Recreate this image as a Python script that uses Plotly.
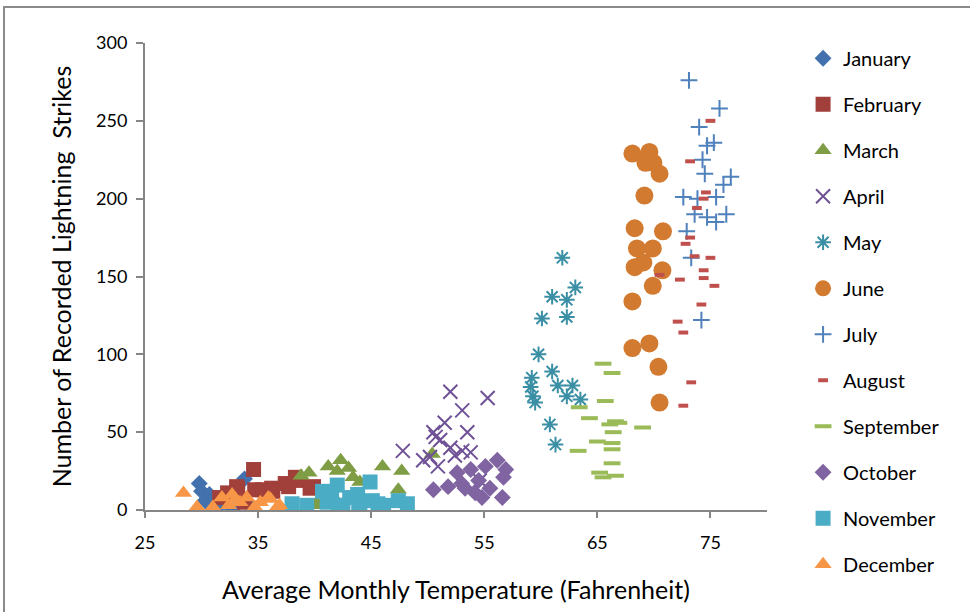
import plotly.graph_objects as go

# ---- data ----
months = ["January", "February", "March", "April", "May", "June",
          "July", "August", "September", "October", "November", "December"]

jan_x = [29.8, 30.0, 30.3, 30.7, 31.0, 31.6, 32.3, 32.7, 33.2, 33.8, 34.3, 31.2]
jan_y = [17, 12, 6, 10, 1, 3, 9, 0, 11, 20, 3, 7]

feb_x = [31.6, 32.3, 33.1, 33.2, 34.6, 34.7, 35.4, 36.2, 36.3, 37.4, 37.7, 38.3, 38.7, 39.6, 39.9, 33.8]
feb_y = [8, 11, 15, 14, 26, 13, 13, 14, 12, 17, 15, 21, 19, 14, 15, 5]

mar_x = [38.8, 39.5, 40.3, 41.2, 42.0, 42.3, 43.0, 43.4, 44.0, 46.0, 47.4, 47.7, 50.4, 41.5, 40.2]
mar_y = [22, 24, 3, 28, 25, 32, 27, 21, 18, 28, 13, 25, 36, 10, 5]

apr_x = [47.8, 49.6, 50.2, 50.5, 50.7, 51.1, 51.5, 52.0, 52.0, 52.4, 53.05, 53.05, 53.5, 53.8, 55.3, 54.6, 50.9]
apr_y = [38, 32, 34, 50, 47, 45, 56, 76, 40, 35, 64, 38, 50, 37, 72, 19, 28]

may_x = [59.1, 59.2, 59.3, 59.5, 59.8, 60.1, 60.8, 61.0, 61.0, 61.3, 61.5, 61.9, 62.3, 62.3, 62.3, 62.8, 63.05, 63.5]
may_y = [79, 85, 73, 69, 100, 123, 55, 137, 89, 42, 80, 162, 135, 124, 73, 80, 143, 71]

jun_x = [68.1, 69.6, 69.25, 69.96, 70.5, 69.16, 68.3, 70.8, 68.5, 69.9, 68.3, 69.07, 70.75, 69.9, 68.1, 68.1, 69.6, 70.4, 70.5]
jun_y = [229, 230, 223, 223, 216, 202, 181, 179, 168, 168, 156, 159, 154, 144, 134, 104, 107, 92, 69]

jul_x = [73.1, 75.8, 74.0, 74.7, 75.3, 74.3, 74.5, 76.8, 76.15, 72.6, 73.85, 75.5, 73.6, 74.7, 75.5, 76.4, 72.9, 73.3, 74.2]
jul_y = [276, 258, 246, 234, 236, 225, 216, 214, 209, 201, 200, 201, 190, 188, 185, 190, 179, 162, 122]

aug_x = [75.0, 73.2, 74.6, 74.4, 73.8, 73.2, 72.8, 73.6, 75.0, 74.4, 74.4, 70.5, 72.3, 75.35, 74.2, 72.1, 72.6, 73.3, 72.6]
aug_y = [250, 224, 204, 200, 194, 175, 171, 163, 162, 154, 149, 151, 148, 144, 132, 121, 114, 82, 67]

sep_x = [63.3, 63.4, 64.3, 65.0, 65.2, 65.5, 65.5, 65.7, 66.1, 66.3, 66.3, 66.3, 66.3, 66.4, 66.6, 66.9, 69.0, 66.6]
sep_y = [38, 66, 59, 44, 24, 94, 21, 70, 55, 88, 43, 39, 30, 50, 22, 56, 53, 57]

oct_x = [50.5, 51.8, 52.6, 53.3, 53.8, 54.2, 54.5, 54.8, 55.1, 55.5, 56.15, 56.6, 56.7, 56.9, 53.0]
oct_y = [13, 15, 24, 14, 26, 11, 19, 8, 28, 14, 32, 8, 21, 26, 17]

nov_x = [38.0, 39.3, 40.7, 41.1, 41.5, 42.0, 42.1, 42.5, 43.1, 43.8, 43.9, 44.0, 44.9, 45.1, 45.6, 46.1, 47.4, 48.2]
nov_y = [4, 3, 12, 5, 7, 16, 3, 3, 8, 10, 1, 3, 18, 6, 4, 3, 6, 4]

dec_x = [28.4, 29.6, 31.0, 31.8, 32.4, 32.7, 33.4, 34.0, 34.7, 35.2, 35.9, 36.1, 36.7, 36.9, 33.0]
dec_y = [11, 2, 2, 8, 3, 10, 5, 8, 2, 5, 8, 7, 2, 3, 7]

x_ticks = [25, 35, 45, 55, 65, 75]
y_ticks = [0, 50, 100, 150, 200, 250, 300]

# ---- styling ----
series = [
    (jan_x, jan_y, dict(symbol="diamond", size=13, color="#4271AE")),
    (feb_x, feb_y, dict(symbol="square", size=15, color="#A13F3B")),
    (mar_x, mar_y, dict(symbol="triangle-up", size=15, color="#7E9D45")),
    (apr_x, apr_y, dict(symbol="x-thin-open", size=14, color="#6F5196", line=dict(width=2, color="#6F5196"))),
    (may_x, may_y, dict(symbol="asterisk-open", size=13, color="#3A8FA5", line=dict(width=2, color="#3A8FA5"))),
    (jun_x, jun_y, dict(symbol="circle", size=18, color="#D27A2F")),
    (jul_x, jul_y, dict(symbol="cross-thin-open", size=12, color="#4F81BD", line=dict(width=2, color="#4F81BD"))),
    (aug_x, aug_y, dict(symbol="line-ew-open", size=7, color="#C0504D", line=dict(width=4, color="#C0504D"))),
    (sep_x, sep_y, dict(symbol="line-ew-open", size=12, color="#9BBB59", line=dict(width=4, color="#9BBB59"))),
    (oct_x, oct_y, dict(symbol="diamond", size=13, color="#8064A2")),
    (nov_x, nov_y, dict(symbol="square", size=15, color="#4BACC6")),
    (dec_x, dec_y, dict(symbol="triangle-up", size=15, color="#F79646")),
]

fig = go.Figure()
for i, (name, (xs, ys, mk)) in enumerate(zip(months, series)):
    fig.add_trace(go.Scatter(x=xs, y=ys, mode="markers", name=name,
                             marker=mk, legendgroup=f"g{i}"))

axis_col = "#868686"
font_family = "Lato, Carlito, Calibri, sans-serif"

fig.update_layout(
    width=970, height=612,
    margin=dict(l=145, r=203, t=43, b=102),
    paper_bgcolor="white", plot_bgcolor="white",
    font=dict(family=font_family, size=18, color="black"),
    showlegend=True,
    legend=dict(x=1.058, xanchor="left", y=1.009, yanchor="top",
                font=dict(size=20, color="black"), tracegroupgap=17,
                maxheight=600,
                bgcolor="rgba(0,0,0,0)", itemsizing="trace"),
    xaxis=dict(range=[25, 80], tickvals=x_ticks, showgrid=False, zeroline=False,
               showline=True, linecolor=axis_col, linewidth=2,
               ticks="outside", ticklen=6, tickcolor=axis_col, tickwidth=1.5,
               tickfont=dict(size=18), ticklabelstandoff=9,
               title=dict(text="Average Monthly Temperature (Fahrenheit)",
                          font=dict(size=25), standoff=30)),
    yaxis=dict(range=[0, 300], tickvals=y_ticks, showgrid=False, zeroline=False,
               showline=True, linecolor=axis_col, linewidth=2,
               ticks="outside", ticklen=7, tickcolor=axis_col, tickwidth=1.5,
               tickfont=dict(size=18), ticklabelstandoff=5,
               title=dict(text="Number of Recorded Lightning  Strikes",
                          font=dict(size=25), standoff=17)),
    shapes=[dict(type="rect", xref="paper", yref="paper",
                 x0=-0.2267, x1=1.36, y0=-0.25, y1=1.0771,
                 line=dict(color="#8A8A8A", width=2), fillcolor="rgba(0,0,0,0)",
                 layer="below")],
)

fig.write_html("out.html",
               config={"displayModeBar": False},
               post_script="document.body.style.margin='0';"
                           "document.body.style.overflow='hidden';")
